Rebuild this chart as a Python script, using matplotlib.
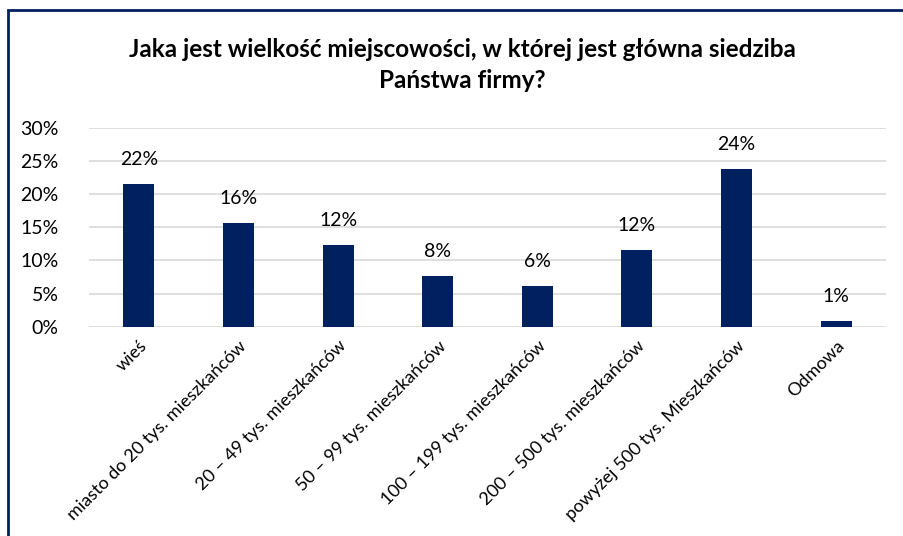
import matplotlib.pyplot as plt
from matplotlib.patches import Rectangle
from matplotlib.ticker import PercentFormatter

plt.rcParams['font.family'] = ['Lato', 'DejaVu Sans']

# data
categories = ['wieś', 'miasto do 20 tys. mieszkańców', '20 – 49 tys. mieszkańców',
              '50 – 99 tys. mieszkańców', '100 – 199 tys. mieszkańców',
              '200 – 500 tys. mieszkańców', 'powyżej 500 tys. Mieszkańców', 'Odmowa']
values = [21.5, 15.7, 12.3, 7.6, 6.1, 11.5, 23.8, 0.8]
labels = ['22%', '16%', '12%', '8%', '6%', '12%', '24%', '1%']

navy = '#002060'

fig = plt.figure(figsize=(9.04, 5.36), dpi=100)
ax = fig.add_axes([0.0985, 0.3905, 0.8815, 0.3713])

x = range(len(categories))
bars = ax.bar(x, values, width=0.31, color=navy, zorder=3)
for b, lab in zip(bars, labels):
    ax.text(b.get_x() + b.get_width() / 2, b.get_height() + 2.4, lab,
            ha='center', va='bottom', fontsize=14, color='#000000')

ax.set_xlim(-0.5, len(categories) - 0.5)
ax.set_ylim(0, 30)
ax.set_yticks(range(0, 31, 5))
ax.yaxis.set_major_formatter(PercentFormatter(decimals=0))
ax.grid(axis='y', color='#d9d9d9', linewidth=1.2, zorder=0)
for s in ax.spines.values():
    s.set_visible(False)
ax.tick_params(axis='both', length=0, labelsize=14, colors='#000000')
ax.tick_params(axis='y', pad=22)
ax.set_xticks(list(x))
ax.set_xticklabels(categories, rotation=45, ha='right', va='top',
                   rotation_mode='anchor', fontsize=13)
ax.tick_params(axis='x', pad=8)

fig.text(0.511, 0.879, 'Jaka jest wielkość miejscowości, w której jest główna siedziba\nPaństwa firmy?',
         ha='center', va='center', fontsize=17.5, fontweight='bold', linespacing=1.45)

# chart border (extends past right and bottom edges)
fig.patches.append(Rectangle((8 / 904, -0.1), 1.2, 1 - 10 / 536 + 0.1,
                             transform=fig.transFigure, fill=False,
                             edgecolor=navy, linewidth=2))

fig.savefig('out.png', dpi=100)
